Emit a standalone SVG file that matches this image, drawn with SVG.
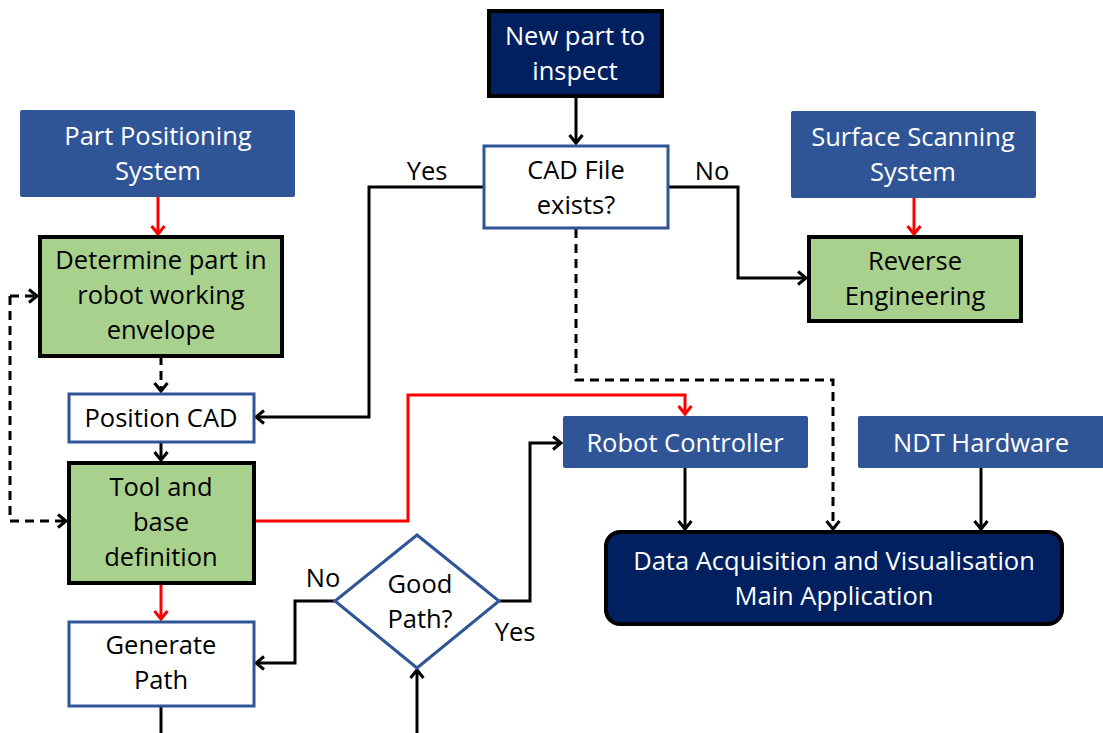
<svg xmlns="http://www.w3.org/2000/svg" width="1103" height="733" viewBox="0 0 1103 733">
<style>
text{font-family:"Open Sans",Lato,"Liberation Sans",sans-serif;font-size:25.5px;text-anchor:middle}
.w{fill:#ffffff}
.k{fill:#000000}
.sys{fill:#2F5597}
.navy{fill:#002060;stroke:#000;stroke-width:4}
.green{fill:#A9D18E;stroke:#000;stroke-width:4}
.white{fill:#fff;stroke:#2F5597;stroke-width:3}
.c{fill:none;stroke:#000;stroke-width:3}
.r{fill:none;stroke:#FF0000;stroke-width:3}
.d{fill:none;stroke:#000;stroke-width:3;stroke-dasharray:9 6}
</style>
<defs>
<marker id="ak" markerWidth="16" markerHeight="16" refX="12" refY="8" orient="auto" markerUnits="userSpaceOnUse">
<path d="M4,1.5 L12,8 L4,14.5" fill="none" stroke="#000" stroke-width="3"/>
</marker>
<marker id="ar" markerWidth="16" markerHeight="16" refX="12" refY="8" orient="auto" markerUnits="userSpaceOnUse">
<path d="M4,1.5 L12,8 L4,14.5" fill="none" stroke="#FF0000" stroke-width="3"/>
</marker>
</defs>
<rect width="1103" height="733" fill="#fff"/>
<g id="connectors">
<path class="c" d="M576,96 V143" marker-end="url(#ak)"/>
<path class="c" d="M483,187 H369 V417 H256" marker-end="url(#ak)"/>
<path class="c" d="M669,187 H738 V278 H806" marker-end="url(#ak)"/>
<path class="d" d="M576,229 V380 H833 V529" marker-end="url(#ak)"/>
<path class="r" d="M158,197 V234" marker-end="url(#ar)"/>
<path class="r" d="M914,198 V234" marker-end="url(#ar)"/>
<path class="d" d="M161,356 V391" marker-end="url(#ak)"/>
<path class="d" d="M10,296 H37" marker-end="url(#ak)"/>
<path class="d" d="M10,296 V521 H66" marker-end="url(#ak)"/>
<path class="c" d="M161,442 V460" marker-end="url(#ak)"/>
<path class="r" d="M161,583 V619" marker-end="url(#ar)"/>
<path class="r" d="M254,521 H408 V395 H685 V414" marker-end="url(#ar)"/>
<path class="c" d="M335,601 H295 V663 H256" marker-end="url(#ak)"/>
<path class="c" d="M499,601 H530 V443 H561" marker-end="url(#ak)"/>
<path class="c" d="M161,706 V735"/>
<path class="c" d="M417,735 V670" marker-end="url(#ak)"/>
<path class="c" d="M685,468 V529" marker-end="url(#ak)"/>
<path class="c" d="M981,468 V529" marker-end="url(#ak)"/>
</g>
<g id="new-part">
<rect class="navy" x="489" y="11" width="173" height="85"/>
<text class="w" x="575" y="45">New part to</text>
<text class="w" x="575" y="80">inspect</text>
</g>
<g id="cad-exists">
<rect class="white" x="484" y="146" width="184" height="82"/>
<text class="k" x="576" y="179">CAD File</text>
<text class="k" x="576" y="214">exists?</text>
</g>
<text class="k" x="427" y="180">Yes</text>
<text class="k" x="712" y="180">No</text>
<g id="part-positioning">
<rect class="sys" x="20" y="110" width="275" height="87" rx="2"/>
<text class="w" x="158" y="145">Part Positioning</text>
<text class="w" x="158" y="180">System</text>
</g>
<g id="surface-scanning">
<rect class="sys" x="791" y="111" width="245" height="87" rx="2"/>
<text class="w" x="913" y="146">Surface Scanning</text>
<text class="w" x="913" y="181">System</text>
</g>
<g id="determine">
<rect class="green" x="40" y="237" width="242" height="119"/>
<text class="k" x="161" y="269">Determine part in</text>
<text class="k" x="161" y="304">robot working</text>
<text class="k" x="161" y="339">envelope</text>
</g>
<g id="reverse">
<rect class="green" x="809" y="237" width="212" height="84"/>
<text class="k" x="915" y="270">Reverse</text>
<text class="k" x="915" y="305">Engineering</text>
</g>
<g id="position-cad">
<rect class="white" x="69" y="394" width="185" height="48"/>
<text class="k" x="161" y="427">Position CAD</text>
</g>
<g id="tool-base">
<rect class="green" x="69" y="463" width="185" height="120"/>
<text class="k" x="161" y="496">Tool and</text>
<text class="k" x="161" y="531">base</text>
<text class="k" x="161" y="566">definition</text>
</g>
<g id="generate-path">
<rect class="white" x="69" y="622" width="185" height="84"/>
<text class="k" x="161" y="654">Generate</text>
<text class="k" x="161" y="689">Path</text>
</g>
<g id="good-path">
<polygon class="white" points="417,535 499,601 417,668 335,601"/>
<text class="k" x="420" y="593">Good</text>
<text class="k" x="420" y="628">Path?</text>
</g>
<text class="k" x="323" y="587">No</text>
<text class="k" x="515" y="641">Yes</text>
<g id="robot-controller">
<rect class="sys" x="563" y="416" width="245" height="52" rx="2"/>
<text class="w" x="685" y="452">Robot Controller</text>
</g>
<g id="ndt-hardware">
<rect class="sys" x="858" y="416" width="247" height="52" rx="2"/>
<text class="w" x="981" y="452">NDT Hardware</text>
</g>
<g id="data-acq">
<rect class="navy" x="606" y="532" width="456" height="92" rx="14"/>
<text class="w" x="834" y="570">Data Acquisition and Visualisation</text>
<text class="w" x="834" y="605">Main Application</text>
</g>
</svg>
